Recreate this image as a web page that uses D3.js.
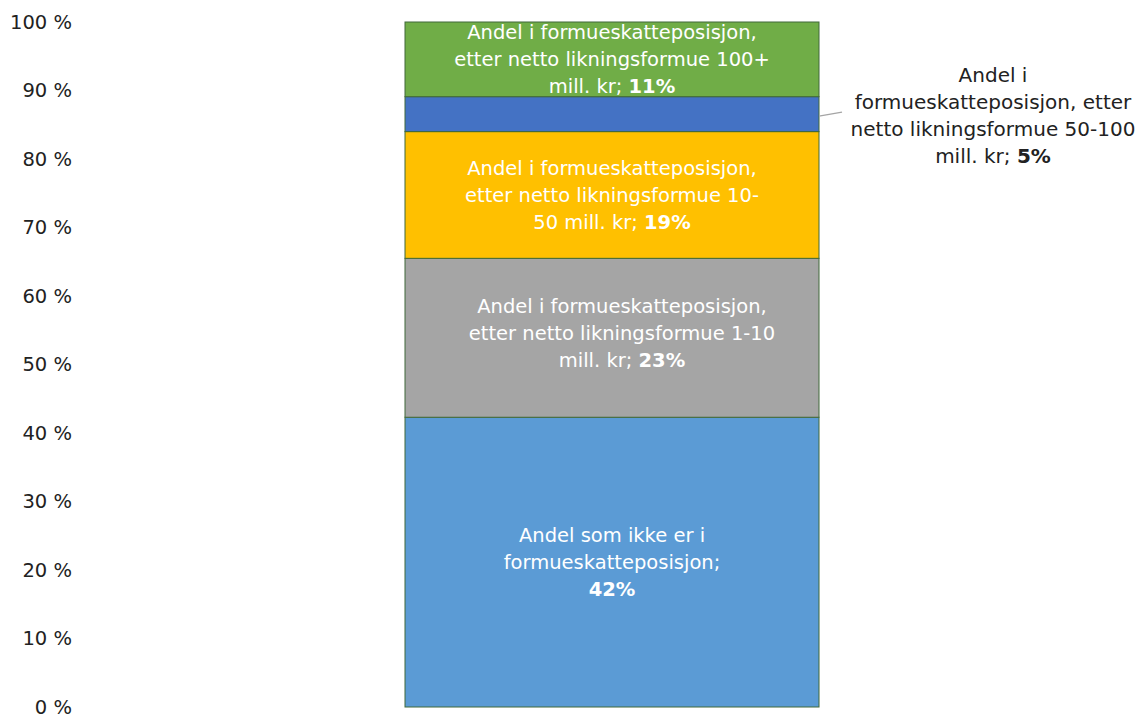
<!DOCTYPE html>
<html><head><meta charset="utf-8">
<script src="https://cdn.jsdelivr.net/npm/d3@7"></script>
<style>body{margin:0;background:#fff;} svg{display:block;} text{font-family:"DejaVu Sans",sans-serif;}</style>
</head><body>
<svg id="chart" width="1143" height="718"></svg>
<script>
const categories = ["Andel som ikke er i formueskatteposisjon", "1-10 mill. kr", "10-50 mill. kr", "50-100 mill. kr", "100+ mill. kr"];
const values = [42.3, 23.2, 18.5, 5.1, 10.9];
const displayPct = ["42%", "23%", "19%", "5%", "11%"];
const labelLines = [
  ["Andel som ikke er i", "formueskatteposisjon;", ""],
  ["Andel i formueskatteposisjon,", "etter netto likningsformue 1-10", "mill. kr; "],
  ["Andel i formueskatteposisjon,", "etter netto likningsformue 10-", "50 mill. kr; "],
  ["Andel i", "formueskatteposisjon, etter", "netto likningsformue 50-100", "mill. kr; "],
  ["Andel i formueskatteposisjon,", "etter netto likningsformue 100+", "mill. kr; "]
];
const colors = ["#5B9BD5", "#A5A5A5", "#FFC000", "#4472C4", "#70AD47"];
const yTicks = [0,10,20,30,40,50,60,70,80,90,100];

const svg = d3.select("#chart");
const y = d3.scaleLinear().domain([0,100]).range([707,22]);
const x = d3.scaleBand().domain(["bar"]).range([405,819]).padding(0);

let cum = 0;
const segs = values.map((v,i)=>{const s={i,v,y0:cum,y1:cum+v}; cum+=v; return s;});

svg.append("g").selectAll("rect").data(segs).join("rect")
  .attr("x", x("bar")).attr("width", x.bandwidth())
  .attr("y", d=>y(d.y1)).attr("height", d=>y(d.y0)-y(d.y1))
  .attr("fill", d=>colors[d.i]).attr("stroke","#41693A").attr("stroke-width",1);

const axis = d3.axisLeft(y).tickValues(yTicks).tickFormat(d=>d+" %").tickSize(0).tickPadding(0);
const ga = svg.append("g").attr("transform","translate(72,0)").call(axis);
ga.select(".domain").remove();
ga.selectAll("text").attr("font-size",19.5).attr("fill","#222").attr("font-family","DejaVu Sans");

const fs = 19.5, lh = 27;
const cx = x("bar") + x.bandwidth()/2;
segs.forEach(s=>{
  const lines = labelLines[s.i];
  const outside = s.i===3;
  const lx = outside ? 993 : cx + (s.i===1 ? 10 : 0);
  const midY = y(s.y0 + s.v/2) - (s.i===1 ? 5 : 0);
  const ly0 = outside ? 75 : midY - (lines.length-1)*lh/2;
  const t = svg.append("text").attr("text-anchor","middle").attr("font-size", outside ? 20 : fs)
    .attr("fill", outside ? "#222" : "#fff");
  lines.forEach((ln,k)=>{
    const ts = t.append("tspan").attr("x",lx).attr("y",ly0+k*lh).attr("dy","0.35em");
    ts.append("tspan").text(ln);
    if(k===lines.length-1) ts.append("tspan").attr("font-weight","bold").text(displayPct[s.i]);
  });
  if(outside){
    const by = y(s.y0 + s.v/2);
    svg.append("path").attr("d", d3.line()([[x("bar")+x.bandwidth(), by+2],[842, by-2]]))
      .attr("stroke","#A5A5A5").attr("stroke-width",1.3).attr("fill","none");
  }
});
</script>
</body></html>
